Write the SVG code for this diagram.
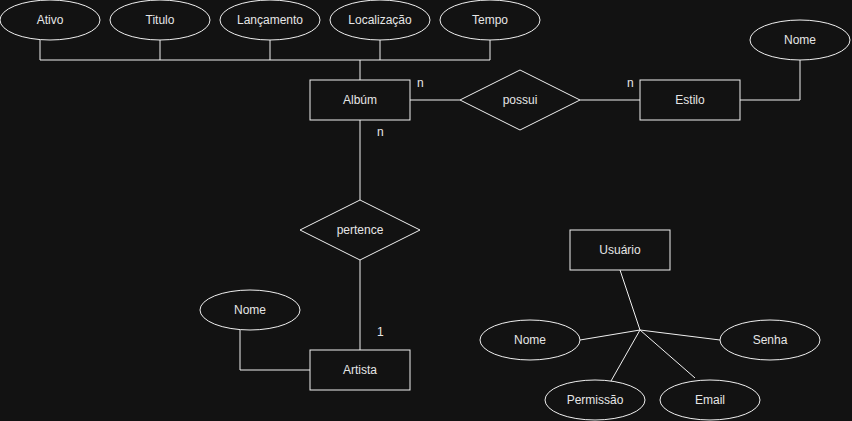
<svg xmlns="http://www.w3.org/2000/svg" width="852" height="421" viewBox="0 0 852 421">
<style>
.s{fill:#121212;stroke:#f0f0f0;stroke-width:1}
.c{fill:none;stroke:#f0f0f0;stroke-width:1}
text{font-family:"Liberation Sans",Arial,Helvetica,sans-serif;font-size:12px;fill:#e6e6e6;text-anchor:middle;dominant-baseline:central}
.l{text-anchor:start}
</style>
<rect x="0" y="0" width="852" height="421" fill="#121212"/>
<g id="connectors">
<polyline class="c" points="40,40 40,60 490,60 490,40"/>
<line class="c" x1="160" y1="40" x2="160" y2="60"/>
<line class="c" x1="270" y1="40" x2="270" y2="60"/>
<line class="c" x1="380" y1="40" x2="380" y2="60"/>
<line class="c" x1="360" y1="60" x2="360" y2="80"/>
<line class="c" x1="410" y1="100" x2="460" y2="100"/>
<line class="c" x1="580" y1="100" x2="640" y2="100"/>
<polyline class="c" points="740,100 800,100 800,60"/>
<line class="c" x1="360" y1="120" x2="360" y2="200"/>
<line class="c" x1="360" y1="260" x2="360" y2="350"/>
<polyline class="c" points="240,330 240,370 310,370"/>
<line class="c" x1="620" y1="270" x2="640" y2="330"/>
<line class="c" x1="580" y1="340" x2="640" y2="330"/>
<line class="c" x1="720" y1="340" x2="640" y2="330"/>
<line class="c" x1="611" y1="381" x2="640" y2="330"/>
<line class="c" x1="695" y1="378" x2="640" y2="330"/>
<text class="l" x="417" y="83">n</text>
<text class="l" x="627" y="83">n</text>
<text class="l" x="377" y="132">n</text>
<text class="l" x="377" y="332">1</text>
</g>
<g id="ativo"><ellipse class="s" cx="50" cy="20" rx="50" ry="20"/><text x="50" y="20">Ativo</text></g>
<g id="titulo"><ellipse class="s" cx="160" cy="20" rx="50" ry="20"/><text x="160" y="20">Titulo</text></g>
<g id="lancamento"><ellipse class="s" cx="270" cy="20" rx="50" ry="20"/><text x="270" y="20">Lançamento</text></g>
<g id="localizacao"><ellipse class="s" cx="380" cy="20" rx="50" ry="20"/><text x="380" y="20">Localização</text></g>
<g id="tempo"><ellipse class="s" cx="490" cy="20" rx="50" ry="20"/><text x="490" y="20">Tempo</text></g>
<g id="album"><rect class="s" x="310" y="80" width="100" height="40"/><text x="360" y="100">Albúm</text></g>
<g id="possui"><polygon class="s" points="460,100 520,70 580,100 520,130"/><text x="520" y="100">possui</text></g>
<g id="estilo"><rect class="s" x="640" y="80" width="100" height="40"/><text x="690" y="100">Estilo</text></g>
<g id="estilo-nome"><ellipse class="s" cx="800" cy="40" rx="50" ry="20"/><text x="800" y="40">Nome</text></g>
<g id="pertence"><polygon class="s" points="300,230 360,200 420,230 360,260"/><text x="360" y="230">pertence</text></g>
<g id="artista"><rect class="s" x="310" y="350" width="100" height="40"/><text x="360" y="370">Artista</text></g>
<g id="artista-nome"><ellipse class="s" cx="250" cy="310" rx="50" ry="20"/><text x="250" y="310">Nome</text></g>
<g id="usuario"><rect class="s" x="570" y="230" width="100" height="40"/><text x="620" y="250">Usuário</text></g>
<g id="usuario-nome"><ellipse class="s" cx="530" cy="340" rx="50" ry="20"/><text x="530" y="340">Nome</text></g>
<g id="senha"><ellipse class="s" cx="770" cy="340" rx="50" ry="20"/><text x="770" y="340">Senha</text></g>
<g id="permissao"><ellipse class="s" cx="595" cy="400" rx="50" ry="20"/><text x="595" y="400">Permissão</text></g>
<g id="email"><ellipse class="s" cx="710" cy="400" rx="50" ry="20"/><text x="710" y="400">Email</text></g>
</svg>
